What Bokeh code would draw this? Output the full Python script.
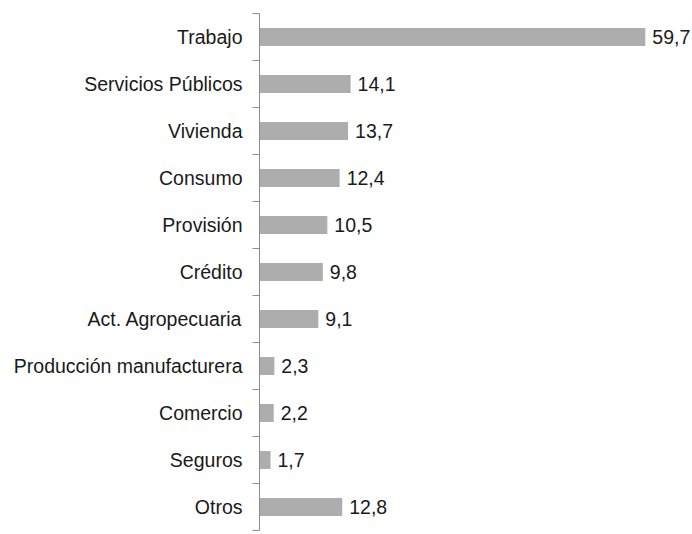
from bokeh.plotting import figure
from bokeh.models import Range1d, FixedTicker, LabelSet, ColumnDataSource
from bokeh.core.properties import value
from bokeh.embed import file_html
from bokeh.resources import INLINE

categories = ["Trabajo", "Servicios Públicos", "Vivienda", "Consumo", "Provisión",
              "Crédito", "Act. Agropecuaria", "Producción manufacturera", "Comercio",
              "Seguros", "Otros"]
values = [59.7, 14.1, 13.7, 12.4, 10.5, 9.8, 9.1, 2.3, 2.2, 1.7, 12.8]
value_labels = ["59,7", "14,1", "13,7", "12,4", "10,5", "9,8", "9,1", "2,3", "2,2", "1,7", "12,8"]

n = len(categories)
centers = [2 * i + 1 for i in range(n)]
bounds = [2 * i for i in range(n + 1)]

src = ColumnDataSource(dict(y=centers, v=values, lab=value_labels))

p = figure(width=692, height=534, output_backend="svg", toolbar_location=None,
           x_range=Range1d(0, 67), y_range=Range1d(2 * n, 0),
           x_axis_location=None, min_border_left=259, min_border_right=0,
           min_border_top=13, min_border_bottom=4)
p.outline_line_color = None
p.grid.visible = False
p.background_fill_color = "white"
p.border_fill_color = "white"

p.hbar(y="y", left=0, right="v", height=0.76, source=src,
       fill_color="#ADADAD", line_color=None)

labels = LabelSet(x="v", y="y", text="lab", source=src, x_offset=7,
                  text_baseline="middle", text_font=value("Liberation Sans"),
                  text_font_size=value("19.5px"), text_color="#1a1a1a")
p.add_layout(labels)

ax = p.yaxis[0]
ax.ticker = FixedTicker(ticks=centers, minor_ticks=bounds)
ax.major_label_overrides = {c: name for c, name in zip(centers, categories)}
ax.major_tick_line_color = None
ax.major_tick_out = 0
ax.major_tick_in = 0
ax.minor_tick_line_color = "#8c8c8c"
ax.minor_tick_out = 7
ax.minor_tick_in = 0
ax.axis_line_color = "#8c8c8c"
ax.major_label_text_font = "Liberation Sans"
ax.major_label_text_font_size = "19.5px"
ax.major_label_text_color = "#1a1a1a"
ax.major_label_standoff = 10

open("out.html", "w").write(file_html(p, INLINE))
